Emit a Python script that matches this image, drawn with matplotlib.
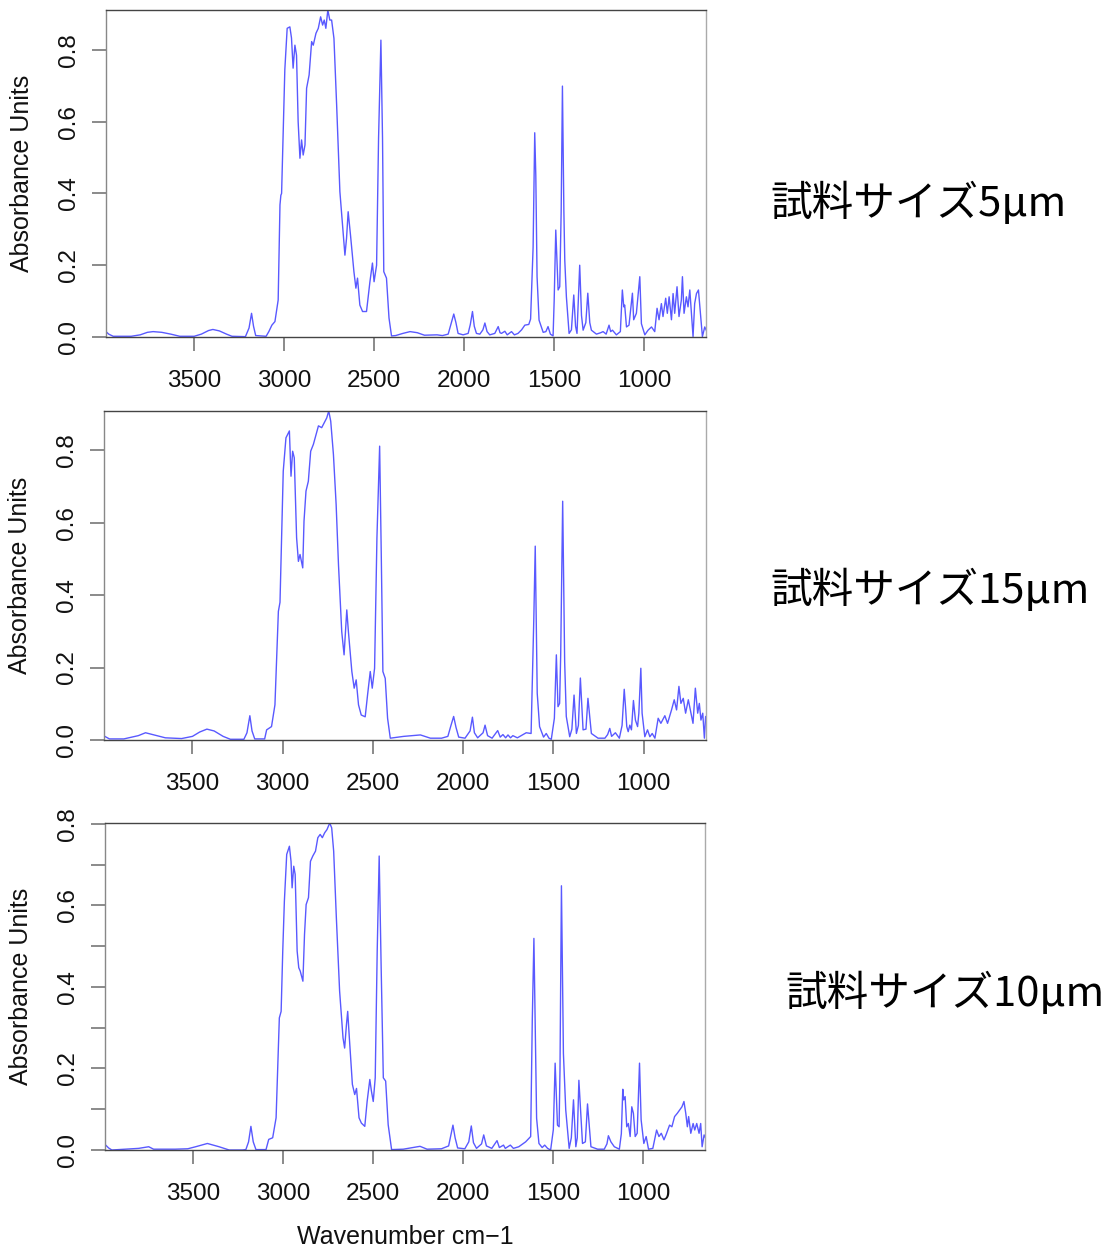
import matplotlib
matplotlib.use('Agg')
import matplotlib.pyplot as plt
import numpy as np

# (wavenumber cm-1, absorbance)
spec_5um = [
    (3990, 0.015), (3975, 0.008), (3950, 0.002), (3850, 0.002), (3800, 0.006), (3760, 0.013),
    (3728, 0.015), (3680, 0.013), (3630, 0.008), (3580, 0.002), (3500, 0.002), (3460, 0.008),
    (3420, 0.018), (3396, 0.021), (3360, 0.017), (3320, 0.008), (3290, 0.002), (3215, 0.001),
    (3195, 0.025), (3181, 0.066), (3170, 0.030), (3158, 0.004), (3100, 0.002), (3085, 0.015),
    (3068, 0.033), (3051, 0.043), (3040, 0.080), (3033, 0.103), (3023, 0.368), (3018, 0.395),
    (3014, 0.400), (3005, 0.572), (2996, 0.745), (2983, 0.860), (2968, 0.864), (2959, 0.833),
    (2950, 0.749), (2940, 0.813), (2931, 0.785), (2922, 0.600), (2912, 0.498), (2903, 0.549),
    (2894, 0.507), (2884, 0.535), (2875, 0.693), (2861, 0.730), (2847, 0.823), (2838, 0.813),
    (2823, 0.846), (2810, 0.860), (2797, 0.892), (2786, 0.869), (2777, 0.883), (2768, 0.860),
    (2757, 0.911), (2746, 0.883), (2736, 0.883), (2723, 0.832), (2708, 0.646), (2690, 0.405),
    (2662, 0.228), (2653, 0.275), (2644, 0.349), (2631, 0.284), (2612, 0.182), (2601, 0.136),
    (2592, 0.164), (2579, 0.089), (2564, 0.071), (2542, 0.071), (2523, 0.154), (2509, 0.206),
    (2500, 0.154), (2486, 0.200), (2475, 0.554), (2462, 0.827), (2453, 0.554), (2446, 0.182),
    (2431, 0.164), (2417, 0.053), (2403, 0.003), (2380, 0.004), (2340, 0.010), (2300, 0.015),
    (2260, 0.012), (2220, 0.005), (2150, 0.006), (2120, 0.004), (2088, 0.008), (2070, 0.040),
    (2057, 0.064), (2045, 0.040), (2033, 0.010), (2005, 0.006), (1977, 0.010), (1965, 0.035),
    (1953, 0.071), (1943, 0.030), (1931, 0.010), (1912, 0.008), (1895, 0.020), (1884, 0.039),
    (1872, 0.015), (1857, 0.006), (1829, 0.010), (1810, 0.029), (1800, 0.012), (1792, 0.010),
    (1773, 0.016), (1760, 0.006), (1736, 0.015), (1720, 0.006), (1700, 0.010), (1680, 0.020),
    (1662, 0.033), (1640, 0.035), (1630, 0.050), (1616, 0.250), (1607, 0.569), (1601, 0.450),
    (1594, 0.168), (1583, 0.047), (1560, 0.013), (1545, 0.015), (1533, 0.029), (1520, 0.008),
    (1505, 0.003), (1499, 0.100), (1490, 0.298), (1477, 0.131), (1468, 0.140), (1460, 0.350),
    (1453, 0.699), (1445, 0.350), (1440, 0.214), (1431, 0.112), (1416, 0.010), (1403, 0.020),
    (1390, 0.117), (1380, 0.030), (1372, 0.010), (1357, 0.200), (1347, 0.060), (1338, 0.019),
    (1323, 0.040), (1312, 0.122), (1301, 0.040), (1292, 0.019), (1264, 0.008), (1240, 0.012),
    (1227, 0.015), (1210, 0.008), (1194, 0.033), (1185, 0.015), (1175, 0.019), (1153, 0.006),
    (1131, 0.015), (1120, 0.131), (1112, 0.084), (1107, 0.089), (1097, 0.028), (1083, 0.033),
    (1064, 0.122), (1057, 0.048), (1042, 0.066), (1023, 0.168), (1014, 0.037), (995, 0.006),
    (977, 0.019), (958, 0.028), (940, 0.015), (927, 0.080), (916, 0.048), (903, 0.093),
    (894, 0.057), (879, 0.108), (870, 0.066), (860, 0.112), (847, 0.048), (838, 0.121),
    (829, 0.066), (816, 0.140), (805, 0.057), (792, 0.103), (786, 0.168), (777, 0.066),
    (764, 0.112), (755, 0.084), (745, 0.131), (736, 0.066), (727, 0.001), (718, 0.093),
    (708, 0.121), (697, 0.131), (686, 0.066), (675, 0.001), (662, 0.028), (650, 0.015),
]

spec_15um = [
    (3993, 0.012), (3960, 0.003), (3880, 0.003), (3800, 0.012), (3760, 0.020), (3720, 0.015),
    (3650, 0.006), (3560, 0.004), (3500, 0.010), (3460, 0.022), (3420, 0.030), (3380, 0.025),
    (3330, 0.010), (3290, 0.002), (3215, 0.002), (3198, 0.020), (3182, 0.067), (3170, 0.025),
    (3155, 0.003), (3100, 0.003), (3089, 0.028), (3062, 0.037), (3043, 0.097), (3024, 0.355),
    (3015, 0.380), (3006, 0.558), (2997, 0.742), (2982, 0.834), (2963, 0.853), (2954, 0.728),
    (2945, 0.797), (2936, 0.779), (2923, 0.558), (2913, 0.493), (2904, 0.512), (2889, 0.475),
    (2882, 0.604), (2871, 0.687), (2858, 0.714), (2845, 0.797), (2830, 0.816), (2815, 0.843),
    (2802, 0.867), (2784, 0.862), (2765, 0.880), (2756, 0.889), (2745, 0.908), (2734, 0.880),
    (2719, 0.788), (2704, 0.650), (2691, 0.484), (2673, 0.299), (2660, 0.235), (2652, 0.299),
    (2645, 0.359), (2636, 0.299), (2617, 0.189), (2604, 0.143), (2593, 0.166), (2580, 0.097),
    (2565, 0.069), (2543, 0.064), (2530, 0.124), (2515, 0.189), (2504, 0.143), (2491, 0.198),
    (2478, 0.558), (2463, 0.811), (2454, 0.512), (2445, 0.189), (2432, 0.170), (2419, 0.060),
    (2404, 0.005), (2330, 0.010), (2237, 0.014), (2182, 0.005), (2120, 0.005), (2085, 0.010),
    (2068, 0.040), (2053, 0.065), (2040, 0.035), (2025, 0.008), (1990, 0.005), (1962, 0.025),
    (1949, 0.063), (1938, 0.020), (1920, 0.006), (1890, 0.020), (1879, 0.041), (1865, 0.012),
    (1840, 0.005), (1809, 0.026), (1795, 0.008), (1780, 0.015), (1765, 0.006), (1752, 0.014),
    (1738, 0.006), (1725, 0.012), (1700, 0.006), (1651, 0.020), (1624, 0.018), (1609, 0.333),
    (1601, 0.535), (1590, 0.129), (1577, 0.037), (1555, 0.008), (1540, 0.018), (1525, 0.005),
    (1512, 0.002), (1495, 0.060), (1484, 0.235), (1475, 0.092), (1466, 0.101), (1460, 0.235),
    (1449, 0.659), (1438, 0.216), (1429, 0.065), (1410, 0.009), (1398, 0.030), (1386, 0.124),
    (1373, 0.018), (1362, 0.040), (1351, 0.171), (1336, 0.028), (1320, 0.030), (1309, 0.115),
    (1290, 0.018), (1253, 0.005), (1215, 0.005), (1200, 0.015), (1188, 0.032), (1178, 0.010),
    (1157, 0.020), (1135, 0.005), (1120, 0.040), (1108, 0.140), (1101, 0.092), (1094, 0.037),
    (1086, 0.023), (1077, 0.041), (1068, 0.028), (1057, 0.109), (1046, 0.055), (1034, 0.037),
    (1027, 0.074), (1016, 0.198), (1009, 0.074), (994, 0.009), (979, 0.028), (966, 0.009),
    (953, 0.018), (938, 0.005), (920, 0.060), (905, 0.046), (883, 0.067), (868, 0.046),
    (846, 0.083), (831, 0.111), (818, 0.083), (805, 0.148), (794, 0.101), (781, 0.115),
    (768, 0.074), (753, 0.111), (738, 0.074), (727, 0.046), (714, 0.143), (701, 0.074),
    (692, 0.101), (683, 0.055), (673, 0.074), (664, 0.005), (657, 0.065), (646, 0.037),
]

spec_10um = [
    (3993, 0.015), (3970, 0.005), (3952, 0.000), (3880, 0.002), (3803, 0.004), (3747, 0.008),
    (3720, 0.002), (3600, 0.002), (3530, 0.003), (3486, 0.008), (3421, 0.016), (3356, 0.008),
    (3300, 0.000), (3226, 0.000), (3207, 0.001), (3192, 0.020), (3179, 0.058), (3166, 0.020),
    (3151, 0.001), (3095, 0.001), (3080, 0.026), (3058, 0.030), (3039, 0.079), (3021, 0.324),
    (3011, 0.340), (3002, 0.488), (2993, 0.610), (2980, 0.725), (2965, 0.745), (2956, 0.708),
    (2950, 0.643), (2941, 0.696), (2933, 0.676), (2922, 0.488), (2913, 0.447), (2905, 0.439),
    (2890, 0.414), (2881, 0.529), (2872, 0.602), (2859, 0.619), (2848, 0.708), (2835, 0.721),
    (2820, 0.733), (2807, 0.766), (2794, 0.774), (2782, 0.766), (2769, 0.778), (2756, 0.786),
    (2741, 0.802), (2730, 0.790), (2719, 0.733), (2704, 0.569), (2686, 0.390), (2667, 0.275),
    (2658, 0.250), (2648, 0.307), (2641, 0.340), (2633, 0.283), (2615, 0.161), (2602, 0.136),
    (2592, 0.151), (2578, 0.079), (2565, 0.066), (2546, 0.058), (2533, 0.119), (2518, 0.173),
    (2509, 0.144), (2499, 0.119), (2488, 0.177), (2477, 0.488), (2466, 0.721), (2455, 0.447),
    (2443, 0.177), (2430, 0.169), (2416, 0.062), (2397, 0.001), (2332, 0.002), (2239, 0.009),
    (2200, 0.002), (2120, 0.003), (2080, 0.010), (2068, 0.035), (2056, 0.061), (2044, 0.030),
    (2030, 0.005), (1990, 0.003), (1968, 0.020), (1954, 0.059), (1942, 0.018), (1925, 0.004),
    (1897, 0.015), (1885, 0.037), (1870, 0.010), (1840, 0.004), (1811, 0.023), (1798, 0.006),
    (1775, 0.012), (1765, 0.004), (1737, 0.012), (1720, 0.004), (1690, 0.008), (1652, 0.020),
    (1624, 0.033), (1615, 0.319), (1606, 0.519), (1591, 0.078), (1578, 0.016), (1560, 0.006),
    (1546, 0.012), (1530, 0.004), (1513, 0.000), (1498, 0.050), (1488, 0.213), (1475, 0.061),
    (1466, 0.057), (1461, 0.196), (1453, 0.648), (1442, 0.237), (1429, 0.098), (1410, 0.004),
    (1398, 0.030), (1386, 0.123), (1373, 0.008), (1365, 0.030), (1356, 0.171), (1336, 0.016),
    (1320, 0.020), (1308, 0.113), (1289, 0.008), (1252, 0.002), (1215, 0.002), (1200, 0.015),
    (1192, 0.035), (1178, 0.020), (1159, 0.008), (1131, 0.002), (1120, 0.040), (1112, 0.149),
    (1107, 0.123), (1099, 0.131), (1090, 0.057), (1081, 0.065), (1071, 0.033), (1062, 0.106),
    (1053, 0.090), (1043, 0.033), (1032, 0.041), (1019, 0.213), (1010, 0.074), (995, 0.016),
    (982, 0.033), (969, 0.002), (945, 0.004), (924, 0.049), (911, 0.033), (898, 0.041),
    (883, 0.025), (870, 0.039), (852, 0.061), (839, 0.057), (824, 0.082), (809, 0.090),
    (796, 0.098), (783, 0.106), (772, 0.119), (762, 0.090), (753, 0.057), (746, 0.082),
    (734, 0.041), (721, 0.065), (712, 0.049), (701, 0.065), (688, 0.041), (679, 0.065),
    (671, 0.008), (660, 0.037), (647, 0.025),
]

sample_labels = ['試料サイズ5μm', '試料サイズ15μm', '試料サイズ10μm']
x_ticks = [3500, 3000, 2500, 2000, 1500, 1000]

panels = [
    # spectrum, axes rect in px (left, top, right, bottom), label pos px, y tick step
    (spec_5um, (106, 10, 706, 337), (770, 203), 0.2),
    (spec_15um, (104, 411, 706, 740), (770, 590), 0.2),
    (spec_10um, (105, 823, 705, 1150), (785, 993), 0.1),
]

W, H = 1106, 1248
plt.rcParams['font.family'] = ['Liberation Sans', 'DejaVu Sans']
fig = plt.figure(figsize=(W / 100, H / 100), dpi=100)

for i, (spec, (l, t, r, b), (lx, ly), step) in enumerate(panels):
    data = np.array(spec)
    ax = fig.add_axes([l / W, 1 - b / H, (r - l) / W, (b - t) / H])
    ax.plot(data[:, 0], data[:, 1], color='#0000ff', lw=1.0, alpha=0.65)
    ax.set_xlim(3990, 655)
    ax.set_ylim(0, data[:, 1].max())

    ax.set_xticks(x_ticks)
    ax.set_xticklabels([str(v) for v in x_ticks])
    yt = np.arange(0, data[:, 1].max() + 1e-6, step)
    ax.set_yticks(yt)
    ax.set_yticklabels(['%.1f' % v if round(v * 10) % 2 == 0 else '' for v in yt])
    ax.tick_params(length=10, width=1.2, color='#777777', labelsize=17.5,
                   labelcolor='#111111')
    ax.tick_params(axis='x', pad=14)
    ax.tick_params(axis='y', pad=9, labelrotation=90)
    for lab in ax.get_yticklabels():
        lab.set_va('center')
    for sp in ax.spines.values():
        sp.set_color('#444444')
        sp.set_linewidth(1.0)
    ax.spines['left'].set_color('#888888')
    ax.spines['right'].set_color('#aaaaaa')

    ax.set_ylabel('Absorbance Units', fontsize=18, color='#111111')
    ax.yaxis.set_label_coords(-0.12, 0.5)

    fig.text(lx / W, 1 - ly / H, sample_labels[i], fontsize=30, va='center', ha='left',
             family=['Noto Sans CJK JP', 'DejaVu Sans'])

    if i == 2:
        ax.set_xlabel('Wavenumber cm\u22121', fontsize=18, color='#111111')
        ax.xaxis.set_label_coords(0.5, -0.23)

fig.savefig('out.png', dpi=100)
